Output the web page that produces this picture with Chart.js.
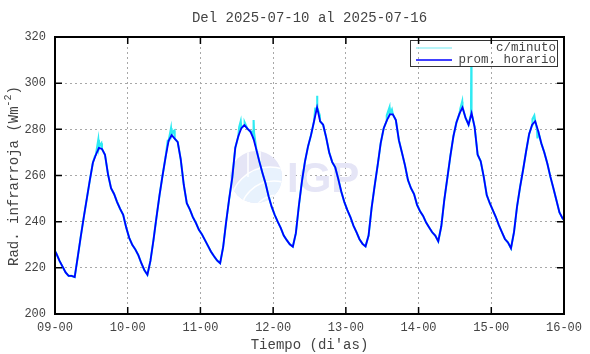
<!DOCTYPE html>
<html><head><meta charset="utf-8">
<script src="https://cdn.jsdelivr.net/npm/chart.js@4/dist/chart.umd.min.js"></script>
<style>html,body{margin:0;padding:0;background:#fff}#wrap{width:590px;height:354px;position:relative}</style>
</head><body><div id="wrap"><canvas id="c" width="590" height="354"></canvas></div>
<script>
const titleText = 'Del 2025-07-10 al 2025-07-16';
const xAxisTitle = "Tiempo (di'as)";
const yAxisTitleMain = 'Rad. infrarroja (Wm';
const yAxisTitleSup = '-2';
const yAxisTitleEnd = ')';
const legendLabels = ['c/minuto', 'prom. horario'];
const xTickLabels = ['09-00','10-00','11-00','12-00','13-00','14-00','15-00','16-00'];
const yTickValues = [200,220,240,260,280,300,320];

// hourly means (plotted at hh:30), one array per day
const prevHour = [228.5];
const d09 = [226,223,220.5,218,216.5,216.5,216,224.6,233.5,242,250,258,265.5,269,272,271.5,269,260.5,254.5,252,248.5,245.5,243,237.5];
const d10 = [233,230,228,225.5,222,219,217,223,232,242,251.5,260,268,275,277.5,276,274.5,267,256,248,245.3,242,239.5,236.5];
const d11 = [234.5,232,229.5,227,225,223.2,222,229,240,250,259,272,277,280.5,281.8,280.3,279,276,271,265.8,261,256.5,251,246.5];
const d12 = [243,240,237.3,234,232,230.2,229.2,235,247,257.5,266,272.5,277.5,283.5,289.5,283.5,282,276.5,270,265.8,263.5,258.5,253,248.5];
const d13 = [245,242,238.3,235.5,232.4,230.4,229.3,234,246,255.5,264.5,274,280.5,283.8,286.5,286.5,284,275.3,270,264.5,258,254.5,252,247.3];
const d14 = [244.5,242.5,239.6,237.5,235.4,234,231.5,238,249.5,259,268.5,277,283,286.8,289.5,285,282,287,281,269,266.2,259.5,251.5,248];
const d15 = [245,242,238.5,235.5,232.5,231,228.5,235.5,246.5,255,262.5,270.5,278,282,283.5,279.2,274,270,265.2,259.5,254.5,249.3,244,241.5];
const nextHour = [240];

// per-minute excursions visible above/below the hourly curve (hours since 09-00)
const spikeHours  = [13.2,14.3,14.7,15.3, 37.2,38.3,38.9,39.4, 60.8,61.3,62.6,65.3,65.5,65.6,65.7, 85.9,86.4,86.5,86.6,87.4, 109.5,110.4,111.2, 133.8,134.4,137.3,137.4,137.45, 157.6,158.2,159.1,159.2,159.3];
const spikeValues = [268.5,275.5,273,274, 275,280.5,279,279.5, 281,283.5,283,279,279,284,278.5, 289,289,294.5,289.5,286, 286,289.5,288.5, 289,292,286.5,307,287, 284.5,286,280,276,279.5];

const hourlyValues = prevHour.concat(d09,d10,d11,d12,d13,d14,d15,nextHour);
const hourlyPts = hourlyValues.map((v,i)=>({x:i-0.5, y:v}));
const minutePts = hourlyPts.concat(spikeHours.map((h,i)=>({x:h, y:spikeValues[i]}))).sort((a,b)=>a.x-b.x);

const MONO = '"Liberation Mono","DejaVu Sans Mono",monospace';
const TXT = '#444444';

const decor = {
  id:'decor',
  beforeDatasetsDraw(chart){
    const ctx = chart.ctx;
    ctx.save();
    const cx=256, cy=177, r=26;
    ctx.beginPath(); ctx.arc(cx,cy,r,0,Math.PI*2); ctx.fillStyle='#e5e5f6'; ctx.fill();
    ctx.save(); ctx.beginPath(); ctx.arc(cx,cy,r,0,Math.PI*2); ctx.clip();
    ctx.beginPath(); ctx.arc(cx+14,cy+30,40,0,Math.PI*2); ctx.fillStyle='#e8f2fd'; ctx.fill();
    ctx.strokeStyle='#ffffff'; ctx.lineWidth=1.5;
    ctx.beginPath(); ctx.arc(cx+14,cy+30,40,0,Math.PI*2); ctx.stroke();
    ctx.beginPath(); ctx.arc(cx+18,cy+38,34,0,Math.PI*2); ctx.stroke();
    ctx.beginPath(); ctx.arc(cx+22,cy+46,28,0,Math.PI*2); ctx.stroke();
    ctx.beginPath(); ctx.moveTo(cx-8,cy-r); ctx.lineTo(cx-8,cy); ctx.moveTo(cx+4,cy-r); ctx.lineTo(cx+4,cy-8); ctx.stroke();
    ctx.restore();
    ctx.fillStyle='#e5e5f6';
    ctx.font='bold 42px "Liberation Sans","DejaVu Sans",sans-serif';
    ctx.textBaseline='alphabetic'; ctx.textAlign='left';
    ctx.fillText('IGP', 287, 192);
    ctx.restore();
  },
  afterDraw(chart){
    const ctx = chart.ctx, a = chart.chartArea;
    const xs = chart.scales.x, ys = chart.scales.y;
    ctx.save();
    ctx.strokeStyle='#333'; ctx.lineWidth=1;
    ctx.strokeRect(410.5,40.5,147,26);
    ctx.lineWidth=1.5;
    ctx.strokeStyle='#9ff0f6'; ctx.beginPath(); ctx.moveTo(416,48); ctx.lineTo(452,48); ctx.stroke();
    ctx.strokeStyle='#0000ff'; ctx.beginPath(); ctx.moveTo(416,60); ctx.lineTo(452,60); ctx.stroke();
    ctx.fillStyle=TXT; ctx.font='12.5px '+MONO; ctx.textAlign='right'; ctx.textBaseline='middle';
    ctx.fillText(legendLabels[0],556,48);
    ctx.fillText(legendLabels[1],556,60);
    ctx.strokeStyle='#000'; ctx.lineWidth=2;
    ctx.strokeRect(a.left,a.top,a.right-a.left,a.bottom-a.top);
    ctx.lineWidth=1.5;
    ctx.beginPath();
    yTickValues.forEach(v=>{const y=ys.getPixelForValue(v); ctx.moveTo(a.left,y); ctx.lineTo(a.left+7,y); ctx.moveTo(a.right,y); ctx.lineTo(a.right-7,y);});
    xTickLabels.forEach((l,i)=>{const x=xs.getPixelForValue(i*24); ctx.moveTo(x,a.bottom); ctx.lineTo(x,a.bottom-7); ctx.moveTo(x,a.top); ctx.lineTo(x,a.top+7);});
    ctx.stroke();
    ctx.fillStyle=TXT; ctx.textAlign='center'; ctx.textBaseline='middle';
    ctx.font='14px '+MONO;
    ctx.fillText(titleText,(a.left+a.right)/2,18);
    ctx.fillText(xAxisTitle,(a.left+a.right)/2,345);
    ctx.save();
    ctx.translate(14,176); ctx.rotate(-Math.PI/2);
    ctx.font='14px '+MONO; const w1=ctx.measureText(yAxisTitleMain).width, w3=ctx.measureText(yAxisTitleEnd).width;
    ctx.font='10px '+MONO; const w2=ctx.measureText(yAxisTitleSup).width;
    let sx=-(w1+w2+w3)/2;
    ctx.textAlign='left';
    ctx.font='14px '+MONO; ctx.fillText(yAxisTitleMain,sx,0); sx+=w1;
    ctx.font='10px '+MONO; ctx.fillText(yAxisTitleSup,sx,-6); sx+=w2;
    ctx.font='14px '+MONO; ctx.fillText(yAxisTitleEnd,sx,0);
    ctx.restore();
    ctx.restore();
  }
};

new Chart(document.getElementById('c'), {
  type:'line',
  data:{ datasets:[
    {label:legendLabels[1], data:hourlyPts, borderColor:'#0000ff', borderWidth:1.8, pointRadius:0, tension:0, order:1},
    {label:legendLabels[0], data:minutePts, borderColor:'#2feaf2', borderWidth:2.1, pointRadius:0, tension:0, order:2}
  ]},
  options:{
    responsive:false, animation:false, devicePixelRatio:1,
    layout:{padding:{top:37,right:26,left:0,bottom:0}},
    plugins:{legend:{display:false}, title:{display:false}, tooltip:{enabled:false}},
    scales:{
      x:{type:'linear', min:0, max:168,
        afterBuildTicks(s){ s.ticks = xTickLabels.map((l,i)=>({value:i*24})); },
        afterFit(s){ s.height=40; s.paddingLeft=0; s.paddingRight=0; },
        ticks:{callback:(v)=>xTickLabels[Math.round(v/24)], color:TXT, font:{family:MONO,size:12}, maxRotation:0, padding:7, autoSkip:false},
        grid:{color:'#a8a8a8', lineWidth:1, drawTicks:false},
        border:{display:false, dash:[2,3]}
      },
      y:{min:200, max:320,
        afterBuildTicks(s){ s.ticks = yTickValues.map(v=>({value:v})); },
        afterFit(s){ s.width=55; s.paddingTop=0; s.paddingBottom=0; },
        ticks:{color:TXT, font:{family:MONO,size:12}, padding:9},
        grid:{color:'#a8a8a8', lineWidth:1, drawTicks:false},
        border:{display:false, dash:[2,3]}
      }
    }
  },
  plugins:[decor]
});
</script></body></html>
